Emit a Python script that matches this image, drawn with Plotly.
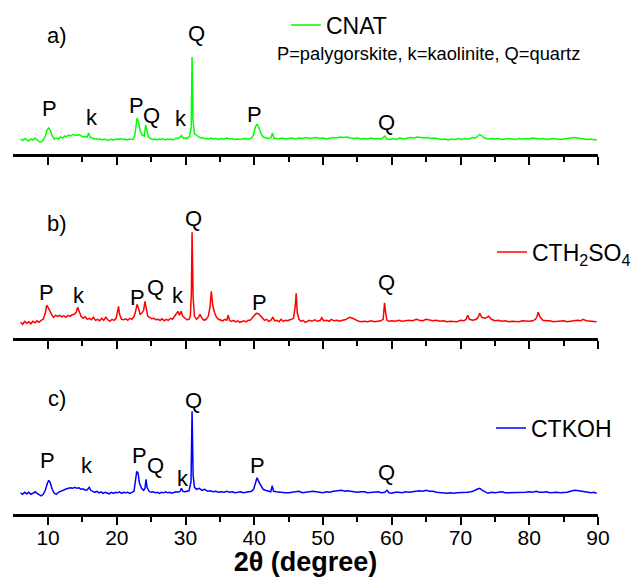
import plotly.graph_objects as go
from plotly.subplots import make_subplots

# ---------------- data (2theta in degrees, intensity in a.u. above baseline) ----------------
cnat = [(6.0,1),(6.3,-0.5),(6.6,1.5),(6.9,0),(7.2,-1),(7.5,1),(7.8,0),(8.1,2),(8.4,0.5),(8.7,-1.5),(9.0,-2),(9.3,0),(9.6,4),(9.85,10),(10.05,12),(10.3,10),(10.6,4),(10.9,1),(11.2,2),(11.5,1),(11.8,3),(12.1,2),(12.4,4),(12.7,3.5),(13.0,5),(13.3,4),(13.6,5.5),(13.9,5),(14.2,4.5),(14.5,5.5),(14.8,4),(15.1,3),(15.4,3.5),(15.7,3),(15.9,7),(16.1,3),(16.4,2),(16.7,1),(17.0,1.5),(17.3,0.5),(17.6,1),(17.9,0),(18.2,1),(18.5,0.5),(18.8,-0.5),(19.1,1),(19.4,0),(19.7,0.5),(20.0,1),(20.3,0.5),(20.6,1.5),(20.9,0.5),(21.2,1),(21.5,0),(21.8,1),(22.1,0.5),(22.4,1),(22.6,4),(22.8,16),(22.95,22),(23.15,18),(23.4,9),(23.7,5),(24.0,4),(24.2,15),(24.35,9),(24.6,3),(24.9,1.5),(25.2,0.5),(25.5,1),(25.8,0),(26.1,1),(26.4,0.5),(26.7,1.5),(27.0,0),(27.3,1),(27.6,0.5),(27.9,1),(28.2,0),(28.5,1.5),(28.8,2),(29.1,2),(29.4,4.5),(29.7,1.5),(30.0,2),(30.3,1.5),(30.6,4),(30.82,12),(30.95,83),(31.08,20),(31.3,6),(31.6,5),(31.9,3),(32.2,2),(32.5,2.5),(32.8,1),(33.1,1.5),(33.4,1),(33.7,2),(34.0,1),(34.4,1.5),(34.8,0.5),(35.2,1.5),(35.6,1),(36.0,2),(36.4,1),(36.8,1.5),(37.2,0.5),(37.6,1),(38.0,0.5),(38.4,1.5),(38.8,1),(39.2,1),(39.6,2),(39.9,5),(40.15,13),(40.4,16),(40.7,12),(41.0,6),(41.3,3),(41.6,2),(42.0,1.5),(42.4,2),(42.65,7),(42.85,2),(43.2,1.5),(43.6,1),(44.0,2),(44.5,1),(45.0,1.5),(45.5,2),(46.0,1),(46.5,2),(47.0,1.5),(47.5,2.5),(48.0,1.5),(48.5,2),(49.0,2.5),(49.5,1.5),(50.0,2),(50.5,1),(51.0,2),(51.5,2.5),(52.0,2),(52.5,3),(53.0,2.5),(53.5,3),(54.0,2),(54.5,1.5),(55.0,2),(55.5,1),(56.0,1.5),(56.5,1),(57.0,2),(57.5,1),(58.0,1.5),(58.5,1),(59.0,4),(59.3,1),(59.7,0.5),(60.2,1.5),(60.7,0.5),(61.2,2),(61.7,1),(62.2,2),(62.7,2.5),(63.2,2),(63.7,3),(64.2,2.5),(64.7,2),(65.2,2.5),(65.7,1.5),(66.2,2),(66.7,1),(67.2,0.5),(67.7,1),(68.2,0),(68.7,1),(69.2,0.5),(69.7,1.5),(70.2,0.5),(70.7,1.5),(71.2,1),(71.7,2.5),(72.2,2),(72.5,4),(72.8,5.5),(73.1,4),(73.5,2),(74.0,1),(74.5,1.5),(75.0,1),(75.5,1.5),(76.0,0.5),(76.5,1),(77.0,1.5),(77.5,1),(78.0,0.5),(78.5,1.5),(79.0,1),(79.5,1.5),(80.0,1),(80.5,2),(81.0,1.5),(81.5,1),(82.0,1.5),(82.5,0.5),(83.0,1),(83.5,1.5),(84.0,1),(84.5,0.5),(85.0,1),(85.5,1.5),(86.0,2),(86.5,2.5),(87.0,2),(87.5,1.5),(88.0,1),(88.5,0.5),(89.0,1),(89.5,0),(89.8,0.5)]

cth2so4 = [(6.0,0),(6.3,-2),(6.6,1),(6.9,-1),(7.2,0.5),(7.5,-1.5),(7.8,1),(8.1,-0.5),(8.4,1.5),(8.7,0),(9.0,2),(9.3,3),(9.6,9),(9.8,17),(10.0,15),(10.2,12),(10.5,8),(10.8,5),(11.1,7),(11.4,6),(11.7,7),(12.0,5.5),(12.3,6.5),(12.6,5),(12.9,7),(13.2,6),(13.5,7.5),(13.8,8),(14.1,10),(14.3,15),(14.5,11),(14.8,6),(15.1,4),(15.4,5.5),(15.7,3),(16.0,4),(16.3,2.5),(16.6,5),(16.9,2),(17.2,3),(17.5,1.5),(17.8,4),(18.1,2),(18.4,5),(18.7,2.5),(19.0,1),(19.3,3),(19.6,2),(19.9,4),(20.1,10),(20.25,16),(20.4,8),(20.7,3),(21.0,2.5),(21.3,3.5),(21.6,2),(21.9,4),(22.2,3),(22.5,6),(22.7,10),(22.95,18),(23.15,14),(23.4,8),(23.6,9),(23.9,12),(24.1,21),(24.3,13),(24.5,6),(24.8,5),(25.1,3.5),(25.4,4),(25.7,2.5),(26.0,3),(26.3,2),(26.6,3.5),(26.9,1.5),(27.2,3),(27.5,2),(27.8,4),(28.1,3),(28.4,6),(28.7,9),(28.9,11),(29.1,7),(29.35,11),(29.6,6),(29.9,4),(30.2,2.5),(30.5,3),(30.7,6),(30.85,30),(30.95,90),(31.1,25),(31.3,6),(31.6,3),(31.9,5),(32.1,8),(32.4,4),(32.7,2),(33.0,3),(33.3,6),(33.55,15),(33.75,31),(33.95,17),(34.2,10),(34.5,5),(34.8,3),(35.1,2.5),(35.4,1.5),(35.7,3),(36.0,2),(36.2,7),(36.4,2),(36.7,1),(37.0,2),(37.3,0.5),(37.6,1.5),(37.9,0),(38.2,1),(38.5,1.5),(38.8,0.5),(39.1,2),(39.4,2),(39.7,4),(40.0,7),(40.3,9),(40.6,8.5),(40.9,6),(41.2,4),(41.5,2),(41.8,3),(42.1,1),(42.4,2),(42.7,5),(43.0,1.5),(43.3,2),(43.6,0.5),(43.9,3),(44.2,1),(44.5,2),(44.8,1.5),(45.1,2),(45.4,3),(45.7,4),(45.95,16),(46.1,29),(46.25,10),(46.5,3),(46.8,1),(47.1,2),(47.4,0),(47.7,1),(48.0,2),(48.4,1),(48.8,2.5),(49.2,1),(49.6,2),(49.8,4.5),(50.1,1.5),(50.5,2),(50.9,1),(51.2,3),(51.6,1.5),(52.0,2),(52.4,1),(52.8,2),(53.2,2.5),(53.6,4),(53.9,5),(54.3,4),(54.8,2),(55.2,1),(55.6,0.5),(56.0,1),(56.5,0.5),(57.0,1.5),(57.5,0.5),(58.0,1),(58.4,1.5),(58.75,3),(58.95,19.5),(59.1,10),(59.3,2),(59.6,1),(60.0,1.5),(60.5,1),(61.0,2),(61.5,1),(62.0,1.5),(62.5,2),(63.0,1.5),(63.6,3),(64.0,2),(64.5,1.5),(65.0,3),(65.5,2),(66.0,1.5),(66.5,2),(67.0,1),(67.5,1.5),(68.0,0.5),(68.5,1),(69.0,1),(69.5,0.5),(70.0,2),(70.5,1.5),(70.8,3),(71.05,7),(71.3,3),(71.8,2),(72.3,3),(72.55,5),(72.8,9),(73.1,5),(73.6,4),(74.1,6),(74.5,3),(75.0,1.5),(75.5,2),(76.0,1),(76.5,1.5),(77.0,0.5),(77.5,1),(78.0,1),(78.5,0.5),(79.0,1.5),(79.5,1),(80.0,1),(80.5,1.5),(80.9,3),(81.15,6),(81.3,10),(81.6,5),(82.0,2),(82.5,1.5),(83.0,1.5),(83.5,0.5),(84.0,1),(84.5,1.5),(85.0,1.5),(85.5,0.5),(86.0,1),(86.5,1.5),(87.0,2),(87.5,1.5),(87.8,3),(88.3,1.5),(88.8,1),(89.3,0.5),(89.8,0.5)]

ctkoh = [(6.0,0.5),(6.3,-1),(6.6,1),(6.9,-0.5),(7.2,1),(7.5,-1),(7.8,0),(8.1,1.5),(8.4,0),(8.7,-1),(9.0,-2.5),(9.3,-1),(9.6,3),(9.9,10),(10.1,13),(10.3,11),(10.6,4),(10.9,0),(11.2,-1),(11.5,1),(11.8,2),(12.1,3),(12.4,4),(12.7,4.5),(13.0,5),(13.3,5.5),(13.6,5),(13.9,6),(14.2,5),(14.5,5.5),(14.8,4),(15.1,4.5),(15.4,3),(15.7,3.5),(16.0,6),(16.2,3),(16.5,2),(16.8,1),(17.1,2),(17.4,0.5),(17.7,1.5),(18.0,0),(18.3,1),(18.6,0.5),(18.9,-0.5),(19.2,1),(19.5,0),(19.8,1),(20.1,0.5),(20.4,1.5),(20.7,0),(21.0,1),(21.3,0.5),(21.6,1),(21.9,0),(22.2,1),(22.5,2),(22.7,12),(22.9,22),(23.1,20),(23.3,10),(23.6,5),(23.9,3),(24.1,5),(24.25,14),(24.4,6),(24.7,2),(25.0,1),(25.3,1.5),(25.6,0.5),(25.9,1),(26.2,0),(26.5,1),(26.8,0.5),(27.1,1.5),(27.4,0.5),(27.7,1),(28.0,0),(28.3,1),(28.6,1.5),(28.9,1),(29.2,2),(29.4,5),(29.6,2),(29.9,1.5),(30.2,2),(30.5,2.5),(30.8,12),(30.95,82),(31.1,18),(31.3,6),(31.6,4),(32.0,5),(32.4,3),(32.8,4),(33.2,2),(33.6,2.5),(34.0,1.5),(34.4,2),(34.8,1),(35.2,1.5),(35.6,1),(36.0,2),(36.4,1),(36.8,1.5),(37.2,0.5),(37.6,1),(38.0,1.5),(38.4,0.5),(38.8,1),(39.2,1.5),(39.6,2),(39.9,4),(40.2,12),(40.4,15.5),(40.7,11),(41.0,7),(41.3,4),(41.6,3),(42.0,2),(42.4,1.5),(42.6,7.5),(42.8,2),(43.2,1.5),(43.6,1),(44.0,1),(44.5,0.5),(45.0,0.5),(45.5,1),(46.0,1),(46.5,2),(47.0,0.5),(47.5,1),(48.0,1),(48.5,2),(49.0,1.5),(49.5,1),(50.0,0.5),(50.5,1.5),(51.0,1),(51.5,2),(52.0,2.5),(52.7,3),(53.2,2),(53.5,2.5),(54.0,2),(54.5,1.5),(55.0,1),(55.5,1.5),(56.0,1.5),(56.5,0.5),(57.0,1),(57.5,1.5),(58.0,1.5),(58.5,0.5),(59.0,1),(59.3,3),(59.6,0.5),(60.0,0),(60.5,1),(61.0,1),(61.5,0.5),(62.0,1.5),(62.5,1),(63.0,1.5),(63.5,2),(64.0,2.5),(64.5,2),(65.0,3),(65.5,2),(66.0,2),(66.5,1),(67.0,0.5),(67.5,0),(68.0,0),(68.5,0.5),(69.0,0),(69.5,0.5),(70.0,0.5),(70.5,1),(71.0,1),(71.5,1.5),(71.8,2),(72.4,4),(72.8,5),(73.2,3),(73.7,1),(74.0,0),(74.5,1),(75.0,0.5),(75.5,1),(76.0,1.5),(76.5,0.5),(77.0,0.5),(77.5,1),(78.0,1),(78.5,0.5),(79.0,0.5),(79.5,1),(80.0,1.5),(80.5,1),(81.0,2),(81.5,1),(82.0,1),(82.5,1.5),(83.0,0.5),(83.5,1),(84.0,1),(84.5,0.5),(85.0,0.5),(85.5,1),(86.0,2),(86.6,3),(87.2,2.5),(87.7,2),(88.0,1.5),(88.5,1),(89.0,0.5),(89.4,1),(89.8,0)]

series_names = ["CNAT", "CTH<sub>2</sub>SO<sub>4</sub>", "CTKOH"]
series_colors = ["#00ff00", "#ff0000", "#0000ff"]
panel_tags = ["a)", "b)", "c)"]
x_ticks = [10, 20, 30, 40, 50, 60, 70, 80, 90]
x_minor_ticks = [15, 25, 35, 45, 55, 65, 75, 85]

# phase labels: (text, 2theta, intensity) per panel
labels_a = [("P", 10.25, 32), ("k", 16.4, 23), ("P", 22.9, 35), ("Q", 25.1, 25),
            ("k", 29.4, 22), ("Q", 31.6, 107), ("P", 40.1, 26), ("Q", 59.3, 18)]
labels_b = [("P", 9.8, 30), ("k", 14.5, 27), ("P", 23.05, 25), ("Q", 25.7, 35),
            ("k", 28.9, 27), ("Q", 31.1, 104), ("P", 40.8, 20), ("Q", 59.3, 40)]
labels_c = [("P", 9.95, 33), ("k", 15.6, 28), ("P", 23.35, 38), ("Q", 25.7, 28),
            ("k", 29.6, 15), ("Q", 31.1, 93), ("P", 40.5, 28), ("Q", 59.2, 21)]
legend_note = "P=palygorskite, k=kaolinite, Q=quartz"

FONT = "Liberation Sans, Arial, sans-serif"

# plot-area pixel geometry helpers
L, R, T, B, W, H = 13, 35, 0, 63, 633, 577
PW, PH = W - L - R, H - T - B
def px_x(px):
    return (px - L) / PW
def px_y(py):
    return (PH + T - py) / PH

fig = make_subplots(rows=3, cols=1)
all_series = [cnat, cth2so4, ctkoh]
legend_ids = ["legend", "legend2", "legend3"]
for i, s in enumerate(all_series):
    xs = [p[0] for p in s]
    ys = [p[1] for p in s]
    fig.add_trace(go.Scatter(x=xs, y=ys, mode="lines", name=series_names[i],
                             line=dict(color=series_colors[i], width=1.5),
                             legend=legend_ids[i], showlegend=True),
                  row=i + 1, col=1)

y_domains = [[px_y(154), 1.0], [px_y(338), px_y(180)], [0.0, px_y(360)]]
y_ranges = [[-14, 140], [-15.7, 142.3], [-20.7, 133.3]]
for i in range(3):
    sfx = "" if i == 0 else str(i + 1)
    fig.layout["yaxis" + sfx].update(domain=y_domains[i], range=y_ranges[i], visible=False)
    fig.layout["xaxis" + sfx].update(
        domain=[0, 1], range=[4.9, 90], showline=True, linewidth=3, linecolor="black",
        ticks="outside", ticklen=8, tickwidth=2, tickcolor="black",
        tickvals=x_ticks, showgrid=False, zeroline=False,
        minor=dict(ticks="outside", ticklen=5, tickwidth=2, tickcolor="black",
                   tickvals=x_minor_ticks, showgrid=False),
        showticklabels=(i == 2), ticklabelstandoff=-5,
        tickfont=dict(family=FONT, size=21, color="black"))

fig.layout.xaxis3.title = dict(text="<b>2θ (degree)</b>",
                               font=dict(family=FONT, size=27, color="black"),
                               standoff=0)

annotations = []
for i, labs in enumerate([labels_a, labels_b, labels_c]):
    sfx = "" if i == 0 else str(i + 1)
    for t, xv, yv in labs:
        annotations.append(dict(text=t, x=xv, y=yv, xref="x" + sfx, yref="y" + sfx,
                                showarrow=False, xanchor="center", yanchor="middle",
                                font=dict(family=FONT, size=22, color="black")))
tag_pos = [(11.3, 105), (11.3, 99), (11.3, 95)]
for i, t in enumerate(panel_tags):
    sfx = "" if i == 0 else str(i + 1)
    annotations.append(dict(text=t, x=tag_pos[i][0], y=tag_pos[i][1], xref="x" + sfx,
                            yref="y" + sfx, showarrow=False, xanchor="center",
                            yanchor="middle", font=dict(family=FONT, size=22, color="black")))
annotations.append(dict(text=legend_note, x=px_x(275), y=px_y(54), xref="paper",
                        yref="paper", showarrow=False, xanchor="left", yanchor="middle",
                        font=dict(family=FONT, size=18.3, color="black")))

leg_common = dict(font=dict(family=FONT, size=23, color="black"), bgcolor="rgba(0,0,0,0)",
                  borderwidth=0, xanchor="left", yanchor="middle")
fig.update_layout(
    width=W, height=H, margin=dict(l=L, r=R, t=T, b=B, autoexpand=False),
    paper_bgcolor="white", plot_bgcolor="white",
    annotations=annotations,
    legend=dict(x=px_x(286), y=px_y(25), **leg_common),
    legend2=dict(x=px_x(492), y=px_y(252), **leg_common),
    legend3=dict(x=px_x(491), y=px_y(428), **leg_common),
)

fig.write_html("out.html")
